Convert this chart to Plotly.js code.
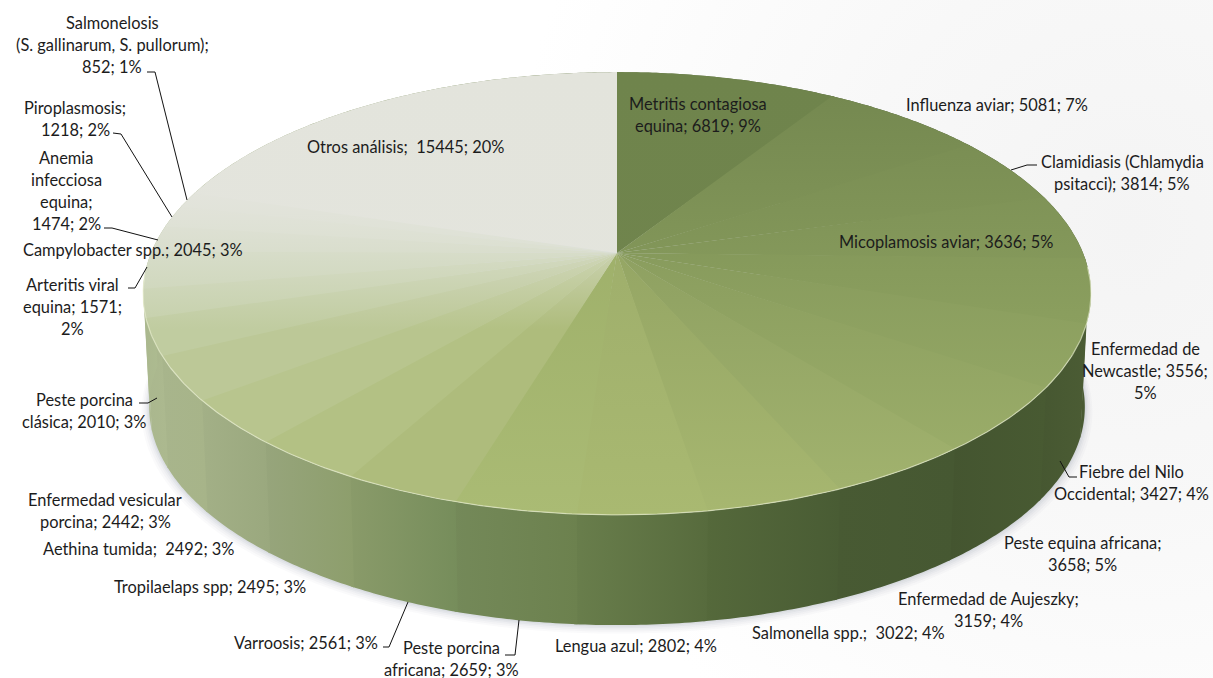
<!DOCTYPE html>
<html lang="es">
<head>
<meta charset="utf-8">
<script src="https://cdn.plot.ly/plotly-3.0.1.min.js"></script>
<style>
html,body{margin:0;padding:0;width:1213px;height:678px;overflow:hidden;background:#fff}
#chart{width:1213px;height:678px;background:radial-gradient(circle 620px at 1130px 230px,#f4f4f4 0%,#f8f8f8 45%,#ffffff 100%)}
</style>
</head>
<body>
<div id="chart"></div>
<script>
// ---------- data ----------
const categories = ["Metritis contagiosa equina","Influenza aviar","Clamidiasis (Chlamydia psitacci)","Micoplamosis aviar","Enfermedad de Newcastle","Fiebre del Nilo Occidental","Peste equina africana","Enfermedad de Aujeszky","Salmonella spp.","Lengua azul","Peste porcina africana","Varroosis","Tropilaelaps spp","Aethina tumida","Enfermedad vesicular porcina","Peste porcina clásica","Arteritis viral equina","Campylobacter spp.","Anemia infecciosa equina","Piroplasmosis","Salmonelosis (S. gallinarum, S. pullorum)","Otros análisis"];
const values = [6819,5081,3814,3636,3556,3427,3658,3159,3022,2802,2659,2561,2495,2492,2442,2010,1571,2045,1474,1218,852,15445];
const faceTop = ["#6f844c","#73874f","#758950","#768a51","#788c52","#7a8e54","#7c9055","#809358","#889a5c","#98a868","#98aa65","#e0e3d6","#e0e3d6","#e1e3d8","#e1e3d9","#e2e4da","#e2e4da","#e2e4db","#e3e4dc","#e3e4dc","#e3e4dc","#e3e4dc"];
const faceBottom = ["#71854e","#96aa66","#95a966","#97ab67","#99ad68","#9caf6a","#9fb16c","#a3b46f","#a7b770","#a9b971","#aabb74","#aebc7c","#b3c184","#b8c58e","#bcc897","#c0cca0","#c5d0aa","#c9d3b2","#cdd6ba","#d2dac2","#d6ddca","#e4e5de"];
const wallStops = [[140,"#acb990"],[200,"#a5b288"],[270,"#97a57c"],[350,"#8b9c6b"],[420,"#7b9060"],[500,"#6c8351"],[590,"#6a7e4c"],[700,"#566a3c"],[780,"#4d6036"],[860,"#465832"],[1000,"#445530"],[1095,"#4a5b33"]];
const labelLines = [
 ["Metritis contagiosa","equina; 6819; 9%"],["Influenza aviar; 5081; 7%"],["Clamidiasis (Chlamydia","psitacci); 3814; 5%"],["Micoplamosis aviar; 3636; 5%"],
 ["Enfermedad de","Newcastle; 3556;","5%"],["Fiebre del Nilo","Occidental; 3427; 4%"],["Peste equina africana;","3658; 5%"],["Enfermedad de Aujeszky;","3159; 4%"],
 ["Salmonella spp.;  3022; 4%"],["Lengua azul; 2802; 4%"],["Peste porcina","africana; 2659; 3%"],["Varroosis; 2561; 3%"],["Tropilaelaps spp; 2495; 3%"],["Aethina tumida;  2492; 3%"],
 ["Enfermedad vesicular","porcina; 2442; 3%"],["Peste porcina","clásica; 2010; 3%"],["Arteritis viral","equina; 1571;","2%"],["Campylobacter spp.; 2045; 3%"],
 ["Anemia","infecciosa","equina;","1474; 2%"],["Piroplasmosis;","1218; 2%"],["Salmonelosis","(S. gallinarum, S. pullorum);","852; 1%"],["Otros análisis;  15445; 20%"]];
const labelX = [698,997,1122,946,1145,1131,1082,988,848,636,451,306,210,139,105,84,72,133,66,75,112,405];
const labelY = [103,104,161,241,348,471,542,598,632,645,647,642,586,548,499,399,284,249,157,107,22,146];
const leaders = [
 [[1011,170],[1027,165],[1037,165]],
 [[1060,461],[1069,477],[1077,477]],
 [[505,655],[515,655],[519,620]],
 [[383,647],[389,647],[408,602]],
 [[139,403],[148,403],[157,398]],
 [[128,288],[135,288],[147,267]],
 [[104,228],[112,228],[158,240]],
 [[113,133],[121,134],[172,217]],
 [[147,72],[155,72],[187,200]]];
// ---------- geometry ----------
const CX=617, CY=253, A=466, B=214, K=0.183;
const BOT={cy:407,ecy:293.5,sx:0.987,sy:0.985};
const OVERLAP=0.006;
const total=values.reduce((a,b)=>a+b,0);
function topPt(t){const u=Math.sin(t),v=-Math.cos(t),d=1-K*v;return [CX+A*u/d,CY+B*v/d];}
function botPt(t){const p=topPt(t);return [CX+(p[0]-CX)*BOT.sx,BOT.cy+(p[1]-BOT.ecy)*BOT.sy];}
function arc(f,a,b){const n=Math.max(4,Math.ceil((b-a)/0.01)),o=[];for(let i=0;i<=n;i++)o.push(f(a+(b-a)*i/n));return o;}
function hex(c){return [1,3,5].map(i=>parseInt(c.substr(i,2),16));}
function rgb(a){return "rgb("+a.map(x=>Math.max(0,Math.min(255,Math.round(x)))).join(",")+")";}
function wallCol(x,f){let s=wallStops;for(let i=0;i<s.length-1;i++){if(x<=s[i+1][0]){const t=Math.max(0,(x-s[i][0])/(s[i+1][0]-s[i][0])),a=hex(s[i][1]),b=hex(s[i+1][1]);return rgb(a.map((q,j)=>(q+(b[j]-q)*t)*f));}}return rgb(hex(s[s.length-1][1]).map(q=>q*f));}
const traces=[];
// soft shadow
[[1.016,5,.03],[1.012,4,.035],[1.008,3,.04],[1.005,2,.05],[1.002,1,.06]].forEach(s=>{
 const p=arc(botPt,0,2*Math.PI);
 traces.push({type:"scatter",mode:"none",fill:"toself",fillcolor:"rgba(85,95,115,"+s[2]+")",hoverinfo:"skip",
  x:p.map(q=>CX+(q[0]-CX)*s[0]),y:p.map(q=>BOT.cy+(q[1]-BOT.cy)*s[0]+s[1])});
});
// slices
const angles=[];let cum=0;
values.forEach(v=>{const a=cum/total*2*Math.PI;cum+=v;angles.push([a,cum/total*2*Math.PI]);});
// walls (back to front from both sides is unnecessary: neighbours only overlap by a hair)
angles.forEach((r,i)=>{
 const a=arc(topPt,r[0],r[1]+OVERLAP),b=arc(botPt,r[0],r[1]+OVERLAP).reverse(),p=a.concat(b);
 const xs=p.map(q=>q[0]),x0=Math.min(...xs),x1=Math.max(...xs);
 traces.push({type:"scatter",mode:"none",fill:"toself",hoverinfo:"skip",x:xs,y:p.map(q=>q[1]),
  fillcolor:wallCol((x0+x1)/2,1),
  fillgradient:{type:"horizontal",start:x0,stop:x1,colorscale:[[0,wallCol(x0,0.99)],[1,wallCol(x1,1.02)]]}});
});
// top faces
angles.forEach((r,i)=>{
 const a=arc(topPt,r[0],r[1]+(i<21?OVERLAP:0));const p=[[CX,CY]].concat(a,[[CX,CY]]);
 const fade=i>=11&&i<21;
 const cs=fade?[[0,faceTop[i]],[0.27,faceTop[i]],[0.58,faceBottom[i]],[1,faceBottom[i]]]:[[0,faceTop[i]],[1,faceBottom[i]]];
 traces.push({type:"scatter",mode:"none",fill:"toself",hoverinfo:"skip",name:categories[i],x:p.map(q=>q[0]),y:p.map(q=>q[1]),
  fillcolor:faceBottom[i],fillgradient:{type:"vertical",start:72,stop:515,colorscale:cs}});
});
// highlight along the front rim
const rim=arc(topPt,Math.PI*0.52,Math.PI*1.47);
traces.push({type:"scatter",mode:"lines",hoverinfo:"skip",line:{width:1.2,color:"rgba(238,244,214,0.6)"},x:rim.map(q=>q[0]),y:rim.map(q=>q[1])});
// ---------- labels ----------
const annotations=[];
labelLines.forEach((ls,i)=>ls.forEach((t,j)=>annotations.push({xref:"x",yref:"y",x:labelX[i],y:labelY[i]+j*22,text:t,showarrow:false,xanchor:"center",yanchor:"middle",font:{family:"Lato, 'Open Sans', sans-serif",size:16.4,color:"#1c1c1c"}})));
const shapes=leaders.map(l=>({type:"path",xref:"x",yref:"y",path:"M"+l.map(q=>q.join(",")).join("L"),line:{color:"#111",width:1}}));
const layout={width:1213,height:678,margin:{l:0,r:0,t:0,b:0},paper_bgcolor:"rgba(0,0,0,0)",plot_bgcolor:"rgba(0,0,0,0)",showlegend:false,
 xaxis:{visible:false,range:[0,1213],fixedrange:true},yaxis:{visible:false,range:[678,0],fixedrange:true},annotations,shapes,hovermode:false};
Plotly.newPlot("chart",traces,layout,{displayModeBar:false,staticPlot:true});
</script>
</body>
</html>
